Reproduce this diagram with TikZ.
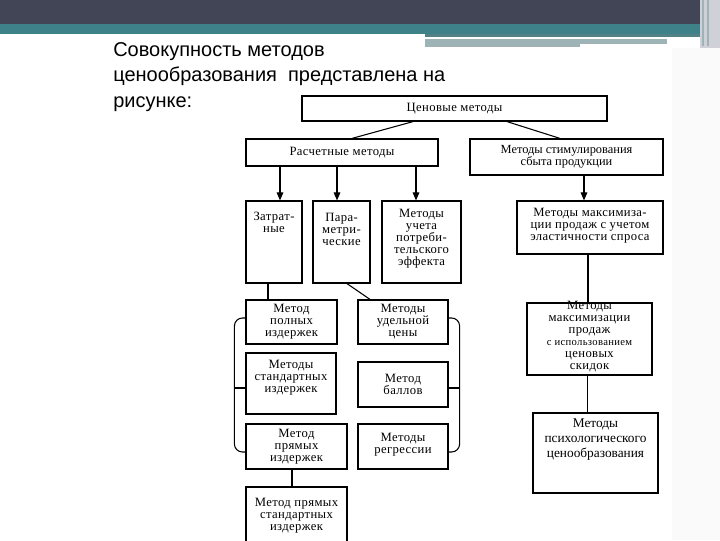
\documentclass[tikz,border=0pt]{standalone}
\usepackage{fontspec}
\setmainfont[LetterSpace=3]{Liberation Serif}
\newfontfamily\plainserif{Liberation Serif}
\newfontfamily\titlefont{Liberation Sans}
\usetikzlibrary{arrows.meta,calc,fit}
\definecolor{hdrdark}{HTML}{414556}
\definecolor{hdrteal}{HTML}{3F8189}
\definecolor{hdrgray}{HTML}{9DB3B6}
\definecolor{hdrlight}{HTML}{CFD0D8}
\definecolor{gridbg}{HTML}{FAFAFA}
\begin{document}
\begin{tikzpicture}[x=0.75pt,y=-0.75pt,
  box/.style={draw, line width=0.9pt, inner sep=0pt},
  txt/.style={inner sep=0pt, align=center, font=\fontsize{9.5}{9}\selectfont},
  conn/.style={line width=0.8pt},
  arr/.style={line width=0.8pt, -{Triangle[length=6pt,width=5pt]}}]
\useasboundingbox (0,0) rectangle (720,540);
% background / header
\fill[white] (0,0) rectangle (720,540);
\fill[gridbg] (672,48) rectangle (720,540);
\fill[hdrdark] (0,0) rectangle (700,24);
\fill[hdrteal] (0,24) rectangle (700,34);
\fill[hdrteal!70!gray] (425,34) rectangle (700,37);
\fill[hdrgray] (425,39) rectangle (667,44);
\fill[hdrgray] (425,44) rectangle (580,47);
\fill[hdrlight] (700,0) rectangle (720,48);
\draw[hdrgray, line width=1pt] (703,0) -- (703,46);
\draw[hdrgray, line width=1pt] (708,0) -- (708,46);
% title
\node[anchor=north west, inner sep=0pt, align=left,
  font=\titlefont\fontsize{15}{19.2}\selectfont] (title) at (113,42)
  {Совокупность методов\\ценообразования\ \ представлена на\\рисунке:};
% boxes
\node[box, fit={(302,96) (607,121)}] (cen) {};
\node[box, fit={(246,139) (438,166)}] (rasch) {};
\node[box, fit={(470,139) (663,175)}] (stim) {};
\node[box, fit={(246,201) (302,283)}] (zatr) {};
\node[box, fit={(313,201) (370,283)}] (param) {};
\node[box, fit={(382,201) (461,283)}] (uchet) {};
\node[box, fit={(517,201) (663,254)}] (maxel) {};
\node[box, fit={(246,300) (337,344)}] (polnye) {};
\node[box, fit={(246,353) (336,414)}] (standart) {};
\node[box, fit={(246,424) (347,469)}] (pryamye) {};
\node[box, fit={(246,487) (347,548)}] (pst) {};
\node[box, fit={(358,300) (448,344)}] (udel) {};
\node[box, fit={(358,362) (448,407)}] (ballov) {};
\node[box, fit={(358,424) (448,469)}] (regr) {};
\node[box, fit={(527,303) (652,375)}] (skid) {};
\node[box, fit={(533,413) (658,493)}] (psych) {};
% texts
\node[txt] (tcen) at (cen.center) {Ценовые методы};
\node[txt] (trasch) at (rasch.center) {Расчетные методы};
\node[txt, font=\plainserif\fontsize{9.3}{9}\selectfont] (tstim) at (stim.center) {Методы стимулирования\\сбыта продукции};
\node[txt] (tzatr) at ($(zatr.north)+(0,22)$) {Затрат-\\ные};
\node[txt] (tparam) at ($(param.north)+(0,29)$) {Пара-\\метри-\\ческие};
\node[txt] (tuchet) at ($(uchet.north)+(0,38)$) {Методы\\учета\\потреби-\\тельского\\эффекта};
\node[txt] (tmaxel) at ($(maxel.center)+(0,-2)$) {Методы максимиза-\\ции продаж с учетом\\эластичности спроса};
\node[txt] (tpolnye) at (polnye.center) {Метод\\полных\\издержек};
\node[txt] (tstandart) at ($(standart.center)+(0,-6)$) {Методы\\стандартных\\издержек};
\node[txt] (tpryamye) at (pryamye.center) {Метод\\прямых\\издержек};
\node[txt] (tpst) at ($(pst.north)+(0,29.5)$) {Метод прямых\\стандартных\\издержек};
\node[txt] (tudel) at (udel.center) {Методы\\удельной\\цены};
\node[txt] (tballov) at (ballov.center) {Метод\\баллов};
\node[txt] (tregr) at ($(regr.center)+(0,-1.5)$) {Методы\\регрессии};
\node[txt] (tskid) at ($(skid.center)+(0,-2)$) {Методы\\максимизации\\продаж\\{\fontsize{8}{9}\selectfont с использованием}\\ценовых\\скидок};
\node[txt, font=\plainserif\fontsize{10}{11.2}\selectfont] (tpsych) at ($(psych.north)+(0,27)$) {Методы\\психологического\\ценообразования};
% connector anchor points
\coordinate (c1) at ($(zatr.north)+(6,0)$);
\coordinate (c2) at ($(param.north)+(-4.5,0)$);
\coordinate (c3) at ($(uchet.north)+(-5.5,0)$);
\coordinate (c4) at ($(stim.south)+(17.5,0)$);
\coordinate (c5) at ($(zatr.south)+(-6,0)$);
\coordinate (c6) at ($(pryamye.south)+(-4.5,0)$);
\coordinate (c7) at ($(maxel.south)+(-2,0)$);
\coordinate (c8) at ($(skid.south)+(-2,0)$);
% connectors
\draw[conn] ($(cen.south)+(-41.5,0)$) -- ($(rasch.north)+(10,0)$);
\draw[conn] ($(cen.south)+(52.5,0)$) -- ($(stim.north)+(-6.5,0)$);
\draw[arr] (c1 |- rasch.south) -- (c1);
\draw[arr] (c2 |- rasch.south) -- (c2);
\draw[arr] (c3 |- rasch.south) -- (c3);
\draw[arr] (c4) -- (c4 |- maxel.north);
\draw[conn] (c5) -- (c5 |- polnye.north);
\draw[conn] ($(param.south)+(5.5,0)$) -- ($(udel.north)+(-33,0)$);
\draw[conn] (c6) -- (c6 |- pst.north);
\draw[conn] (c7) -- (c7 |- skid.north);
\draw[conn] (c8) -- (c8 |- psych.north);
% brackets
\draw[conn, rounded corners=6pt] ($(polnye.west)+(0,-4)$) -- ++(-11,0) |- ($(pryamye.west)+(0,5.5)$);
\draw[conn] ($(standart.west)+(0,4.5)$) -- ++(-11,0);
\draw[conn, rounded corners=6pt] ($(udel.east)+(0,-4)$) -- ++(11,0) |- ($(regr.east)+(0,5.5)$);
\draw[conn] ($(ballov.east)+(0,3.5)$) -- ++(11,0);
\end{tikzpicture}
\end{document}
